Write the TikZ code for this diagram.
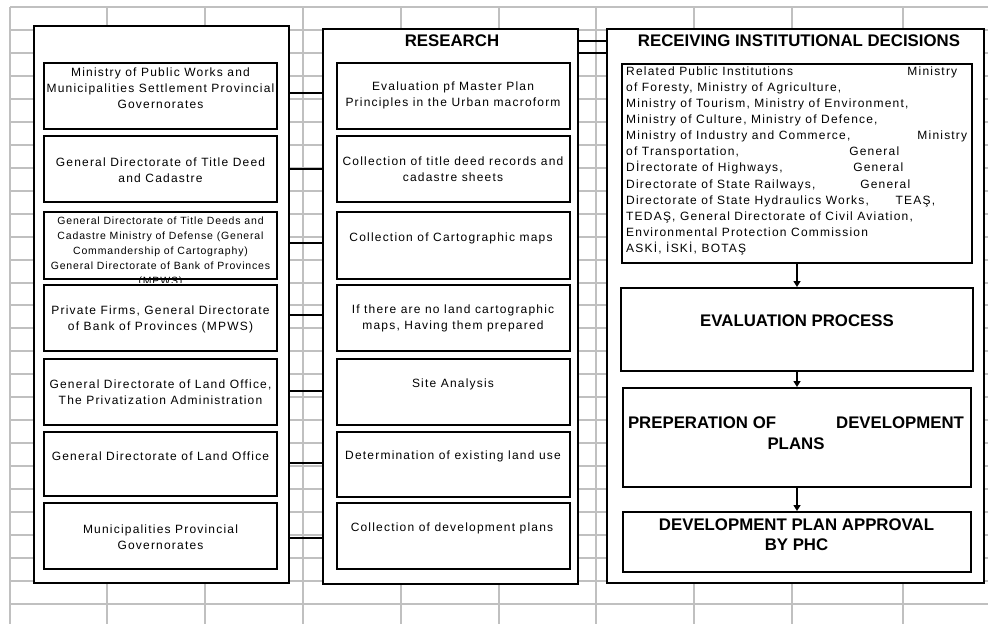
\documentclass[tikz,border=0pt]{standalone}
\usepackage{fontspec}
\setmainfont{Liberation Sans}
\newfontfamily\boxfont[LetterSpace=10]{Liberation Sans}
\newfontfamily\smallboxfont[LetterSpace=8]{Liberation Sans}
\usetikzlibrary{arrows.meta,calc}
\definecolor{gridgray}{RGB}{192,192,192}

\begin{document}
\begin{tikzpicture}[
  x=1pt, y=-1pt,
  grid line/.style={draw=gridgray, line width=2pt},
  outerbox/.style={draw=black, line width=2pt, fill=white, inner sep=0pt},
  innerbox/.style={draw=black, line width=2pt, inner sep=0pt},
  lbox/.style={innerbox, minimum width=233pt},
  rbox/.style={innerbox},
  label text/.style={font=\boxfont\fontsize{12}{16}\selectfont, align=center, inner sep=0pt},
  small text/.style={font=\smallboxfont\fontsize{10.5}{15}\selectfont, align=center, inner sep=0pt},
  list text/.style={font=\boxfont\fontsize{12}{16.1}\selectfont, align=left, inner sep=0pt},
  heading/.style={font=\bfseries\fontsize{16.8}{21}\selectfont, align=center, inner sep=0pt},
  link/.style={draw=black, line width=2pt},
  flow/.style={draw=black, line width=2pt, -{Triangle[width=7pt,length=6pt]}}
]
\useasboundingbox (0,0) rectangle (988,624);
\fill[white] (0,0) rectangle (988,624);

% spreadsheet grid in the background
\foreach \k in {0,...,26}
  \draw[grid line] (10,{7+22.96*\k}) -- (988,{7+22.96*\k});
\foreach \gx in {10,107,205,303,401,499,596,694,792,903}
  \draw[grid line] (\gx,7) -- (\gx,624);

% the three column frames
\node[outerbox, minimum width=255pt, minimum height=557pt] (LO) at (161.5,304.5) {};
\node[outerbox, minimum width=255pt, minimum height=555pt] (MO) at (450.5,306.5) {};
\node[outerbox, minimum width=377pt, minimum height=554pt] (RO) at (795.5,306) {};

% left column: institutions
\node[lbox, minimum height=66pt] (l1) at (160.5,96) {};
\node[lbox, minimum height=66pt] (l2) at (160.5,169) {};
\node[lbox, minimum height=67pt] (l3) at (160.5,245.5) {};
\node[lbox, minimum height=66pt] (l4) at (160.5,318) {};
\node[lbox, minimum height=66pt] (l5) at (160.5,392) {};
\node[lbox, minimum height=64pt] (l6) at (160.5,464) {};
\node[lbox, minimum height=66pt] (l7) at (160.5,536) {};

\node[label text] (l1t) at (160.5,88.5) {Ministry of Public Works and\\Municipalities Settlement Provincial\\Governorates};
\node[label text] (l2t) at (160.5,170) {General Directorate of Title Deed\\and Cadastre};
\begin{scope}
  \clip (30,212) rectangle (290,282);
  \node[small text] (l3t) at (160.5,251.5) {General Directorate of Title Deeds and\\Cadastre Ministry of Defense (General\\Commandership of Cartography)\\General Directorate of Bank of Provinces\\(MPWS)};
\end{scope}
\node[label text] (l4t) at (160.5,319) {Private Firms, General Directorate\\of Bank of Provinces (MPWS)};
\node[label text] (l5t) at (160.5,392.5) {General Directorate of Land Office,\\The Privatization Administration};
\node[label text] (l6t) at (160.5,456) {General Directorate of Land Office};
\node[label text] (l7t) at (160.5,537) {Municipalities Provincial\\Governorates};

% middle column: research steps
\node[heading] (research) at (452,41) {RESEARCH};
\node[lbox, minimum height=66pt] (m1) at (453,96) {};
\node[lbox, minimum height=66pt] (m2) at (453,169) {};
\node[lbox, minimum height=67pt] (m3) at (453,245.5) {};
\node[lbox, minimum height=66pt] (m4) at (453,318) {};
\node[lbox, minimum height=66pt] (m5) at (453,392) {};
\node[lbox, minimum height=65pt] (m6) at (453,464.5) {};
\node[lbox, minimum height=66pt] (m7) at (453,536) {};

\node[label text] (m1t) at (453,95.5) {Evaluation pf Master Plan\\Principles in the Urban macroform};
\node[label text] (m2t) at (453,169) {Collection of title deed records and\\cadastre sheets};
\node[label text] (m3t) at (451,238) {Collection of Cartographic maps};
\node[label text] (m4t) at (453,318.5) {If there are no land cartographic\\maps, Having them prepared};
\node[label text] (m5t) at (453,384) {Site Analysis};
\node[label text] (m6t) at (453,456) {Determination of existing land use};
\node[label text] (m7t) at (452,528) {Collection of development plans};

% right column: decision process
\node[heading] (receiving) at (799,41) {RECEIVING INSTITUTIONAL DECISIONS};
\node[rbox, minimum width=350pt, minimum height=199pt] (r1) at (797,163.5) {};
\node[rbox, minimum width=352pt, minimum height=83pt] (r2) at (797,329.5) {};
\node[rbox, minimum width=348pt, minimum height=99pt] (r3) at (797,437.5) {};
\node[rbox, minimum width=348pt, minimum height=60pt] (r4) at (797,542) {};

\node[list text, anchor=north west] (r1t) at (626,66.5) {%
\makebox[331pt][s]{Related Public Institutions\hfill Ministry}\\
of Foresty, Ministry of Agriculture,\\
Ministry of Tourism, Ministry of Environment,\\
Ministry of Culture, Ministry of Defence,\\
\makebox[341pt][s]{Ministry of Industry and Commerce,\hfill Ministry}\\
\makebox[273pt][s]{of Transportation,\hfill General}\\
\makebox[277pt][s]{Dİrectorate of Highways,\hfill General}\\
\makebox[284pt][s]{Directorate of State Railways,\hfill General}\\
\makebox[309pt][s]{Directorate of State Hydraulics Works,\hfill TEAŞ,}\\
TEDAŞ, General Directorate of Civil Aviation,\\
Environmental Protection Commission\\
ASKİ, İSKİ, BOTAŞ};

\node[heading] (r2t) at (797,321) {EVALUATION PROCESS};
\node[heading] (r3t) at (796,433.5) {\makebox[336pt][s]{PREPERATION OF\hfill DEVELOPMENT}\\PLANS};
\node[heading, font=\bfseries\fontsize{16.8}{20}\selectfont] (r4t) at (796.5,535) {DEVELOPMENT PLAN APPROVAL\\BY PHC};

% links between the columns
\foreach \n/\d in {l1/-3, l2/0, l3/-2.5, l4/-3, l5/-1, l6/-1, l7/2}
  \draw[link] ($(LO.east |- \n)+(0,\d)$) -- ($(MO.west |- \n)+(0,\d)$);
\draw[link] (MO.east |- research) -- (RO.west |- research);
\draw[link] ($(MO.east |- research)+(0,12)$) -- ($(RO.west |- research)+(0,12)$);

% flow of the decision steps
\draw[flow] (r1) -- (r2);
\draw[flow] (r2) -- (r3);
\draw[flow] (r3) -- (r4);
\end{tikzpicture}
\end{document}
